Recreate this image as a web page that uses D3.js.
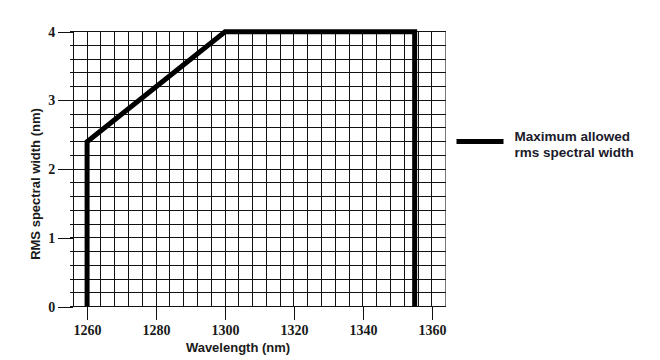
<!DOCTYPE html>
<html>
<head>
<meta charset="utf-8">
<script src="https://cdn.jsdelivr.net/npm/d3@7"></script>
<style>
  body { margin: 0; background: #fff; }
  svg { display: block; }
</style>
</head>
<body>
<div id="chart"></div>
<script>
// limit curve: max rms spectral width vs wavelength
var wavelength = [1260, 1260, 1300, 1355, 1355];
var rmsWidth   = [0, 2.4, 4, 4, 0];

var xTicks = [1260, 1280, 1300, 1320, 1340, 1360];
var yTicks = [0, 1, 2, 3, 4];
var legendLines = ["Maximum allowed", "rms spectral width"];

var width = 660, height = 360;

var x = d3.scaleLinear().domain([1256, 1364]).range([73.3, 445.7]);
var y = d3.scaleLinear().domain([0, 4]).range([306.7, 31.7]);

var svg = d3.select("#chart").append("svg")
    .attr("width", width)
    .attr("height", height);

svg.append("rect").attr("width", width).attr("height", height).attr("fill", "#fff");

// grid: a line every 4 nm and every 0.2 nm
var gx = d3.range(1256, 1364.1, 4);
var gy = d3.range(0, 21).map(function(i) { return i * 0.2; });

var grid = svg.append("g")
    .attr("stroke", "#111")
    .attr("stroke-width", 1)
    .attr("shape-rendering", "crispEdges");

grid.selectAll("line.v").data(gx).enter().append("line")
    .attr("class", "v")
    .attr("x1", function(d) { return x(d); })
    .attr("x2", function(d) { return x(d); })
    .attr("y1", y(4))
    .attr("y2", y(0))
    .attr("stroke", function(d, i) { return i === gx.length - 1 ? "#777" : "#111"; });

grid.selectAll("line.h").data(gy).enter().append("line")
    .attr("class", "h")
    .attr("x1", x(1256) - 3)
    .attr("x2", x(1364))
    .attr("y1", function(d) { return y(d); })
    .attr("y2", function(d) { return y(d); });

// axes
var xAxis = svg.append("g")
    .attr("transform", "translate(0," + y(0) + ")")
    .call(d3.axisBottom(x).tickValues(xTicks).tickSize(13).tickPadding(5).tickFormat(d3.format("d")));

var yAxis = svg.append("g")
    .attr("transform", "translate(" + x(1256) + ",0)")
    .call(d3.axisLeft(y).tickValues(yTicks).tickSize(15).tickPadding(3).tickFormat(d3.format("d")));

[xAxis, yAxis].forEach(function(a) {
  a.select(".domain").remove();
  a.selectAll(".tick line").attr("stroke", "#111").attr("shape-rendering", "crispEdges");
  a.selectAll(".tick text")
      .attr("fill", "#1a1a1a")
      .style("font-family", "'Liberation Serif', 'Times New Roman', serif")
      .style("font-weight", "bold")
      .style("font-size", "14px");
});

// limit curve
var line = d3.line()
    .x(function(d) { return x(d[0]); })
    .y(function(d) { return y(d[1]); });

svg.append("path")
    .datum(d3.zip(wavelength, rmsWidth))
    .attr("d", line)
    .attr("fill", "none")
    .attr("stroke", "#000")
    .attr("stroke-width", 5)
    .attr("stroke-linejoin", "miter");

// axis titles
var sans = "'Liberation Sans', Arial, sans-serif";

svg.append("text")
    .attr("x", 238)
    .attr("y", 352)
    .attr("text-anchor", "middle")
    .attr("fill", "#1a1a1a")
    .style("font-family", sans)
    .style("font-weight", "bold")
    .style("font-size", "13px")
    .text("Wavelength (nm)");

svg.append("text")
    .attr("transform", "translate(39.5,184) rotate(-90)")
    .attr("text-anchor", "middle")
    .attr("fill", "#1a1a1a")
    .style("font-family", sans)
    .style("font-weight", "bold")
    .style("font-size", "13px")
    .text("RMS spectral width (nm)");

// legend
var legend = svg.append("g");

legend.append("line")
    .attr("x1", 456.5).attr("x2", 503.5)
    .attr("y1", 141.5).attr("y2", 141.5)
    .attr("stroke", "#000")
    .attr("stroke-width", 5);

legend.selectAll("text").data(legendLines).enter().append("text")
    .attr("x", 514.5)
    .attr("y", function(d, i) { return 140.7 + i * 16; })
    .attr("fill", "#1a1a2a")
    .style("font-family", sans)
    .style("font-weight", "bold")
    .style("font-size", "13.5px")
    .text(function(d) { return d; });
</script>
</body>
</html>
